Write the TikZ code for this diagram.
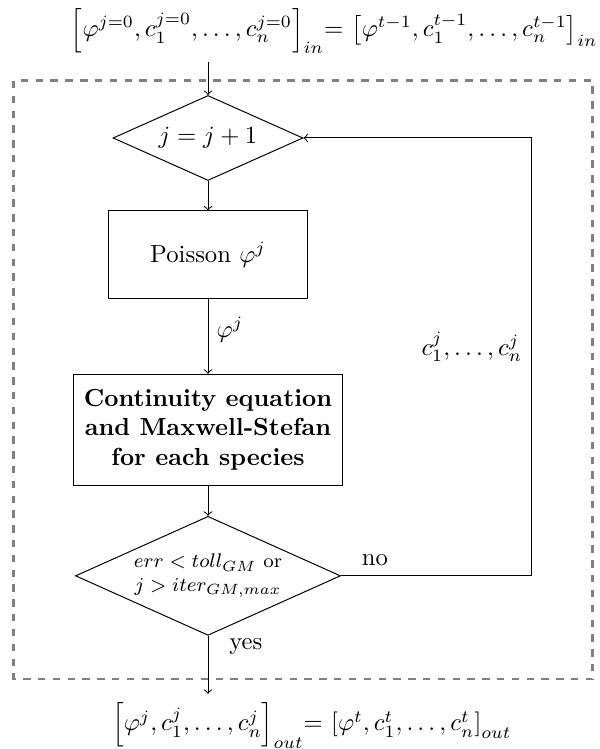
\documentclass[tikz,border=0pt]{standalone}
\usepackage{amssymb}
\usepackage{amsmath}
\usetikzlibrary{shapes.geometric}

\begin{document}
\begin{tikzpicture}[ehto/.style={draw, diamond, inner sep=0pt},
  lohko/.style={draw, rectangle, align=center}]
\useasboundingbox (0,0) rectangle (8.544,-10.666);
\draw[gray, line width=1.2pt, dashed] (0.199,-1.153) rectangle (8.444,-9.669);
\node (in) at (4.76,-0.44) {$\left[\varphi^{j=0}, c_1^{j=0}, \ldots, c_n^{j=0}\right]_{in}$= $\left[\varphi^{t-1}, c_1^{t-1}, \ldots, c_n^{t-1}\right]_{in}$};
\node[ehto, aspect=2.24, minimum width=2.706cm, minimum height=1.21cm] (1) at (2.962,-1.965) {$j=j+1$};
\node[lohko, minimum width=2.82cm, minimum height=1.253cm] (2) at (2.962,-3.631) {Poisson $\varphi^j$};
\node[lohko, inner sep=4pt, minimum height=1.58cm] (3) at (2.962,-6.12) {\textbf{Continuity equation}\\ \textbf{and Maxwell-Stefan}\\ \textbf{for each species}};
\node[ehto, aspect=2.23, minimum width=3.774cm, minimum height=1.695cm, font=\footnotesize, align=center] (4) at (2.962,-8.2) {$err<toll_{GM}$ or\\ $j>iter_{GM,max}$};
\node (out) at (4.44,-10.33) {$\left[\varphi^{j}, c_1^{j}, \ldots, c_n^{j}\right]_{out}$= $\left[\varphi^{t}, c_1^{t}, \ldots, c_n^{t}\right]_{out}$};
\coordinate (takaisin) at (7.562,-4.94);
\node (phi) at (3.275,-4.70) {$\varphi^j$};
\node (cj) at (6.72,-4.94) {$c_1^j, \ldots, c_n^j$};
\node (no) at (5.34,-7.97) {no};
\node (yes) at (3.50,-9.21) {yes};
\path[draw,->] (in.south -| 1.north) -- (1.north);
\path[draw,->] (1) -- (2);
\path[draw,->] (2) -- (3);
\path[draw,->] (3) -- (4);
\path[draw,->] (4.east) -| (takaisin) |- (1.east);
\path[draw,->] (4.south) -- (out.north -| 4.south);
\end{tikzpicture}
\end{document}
